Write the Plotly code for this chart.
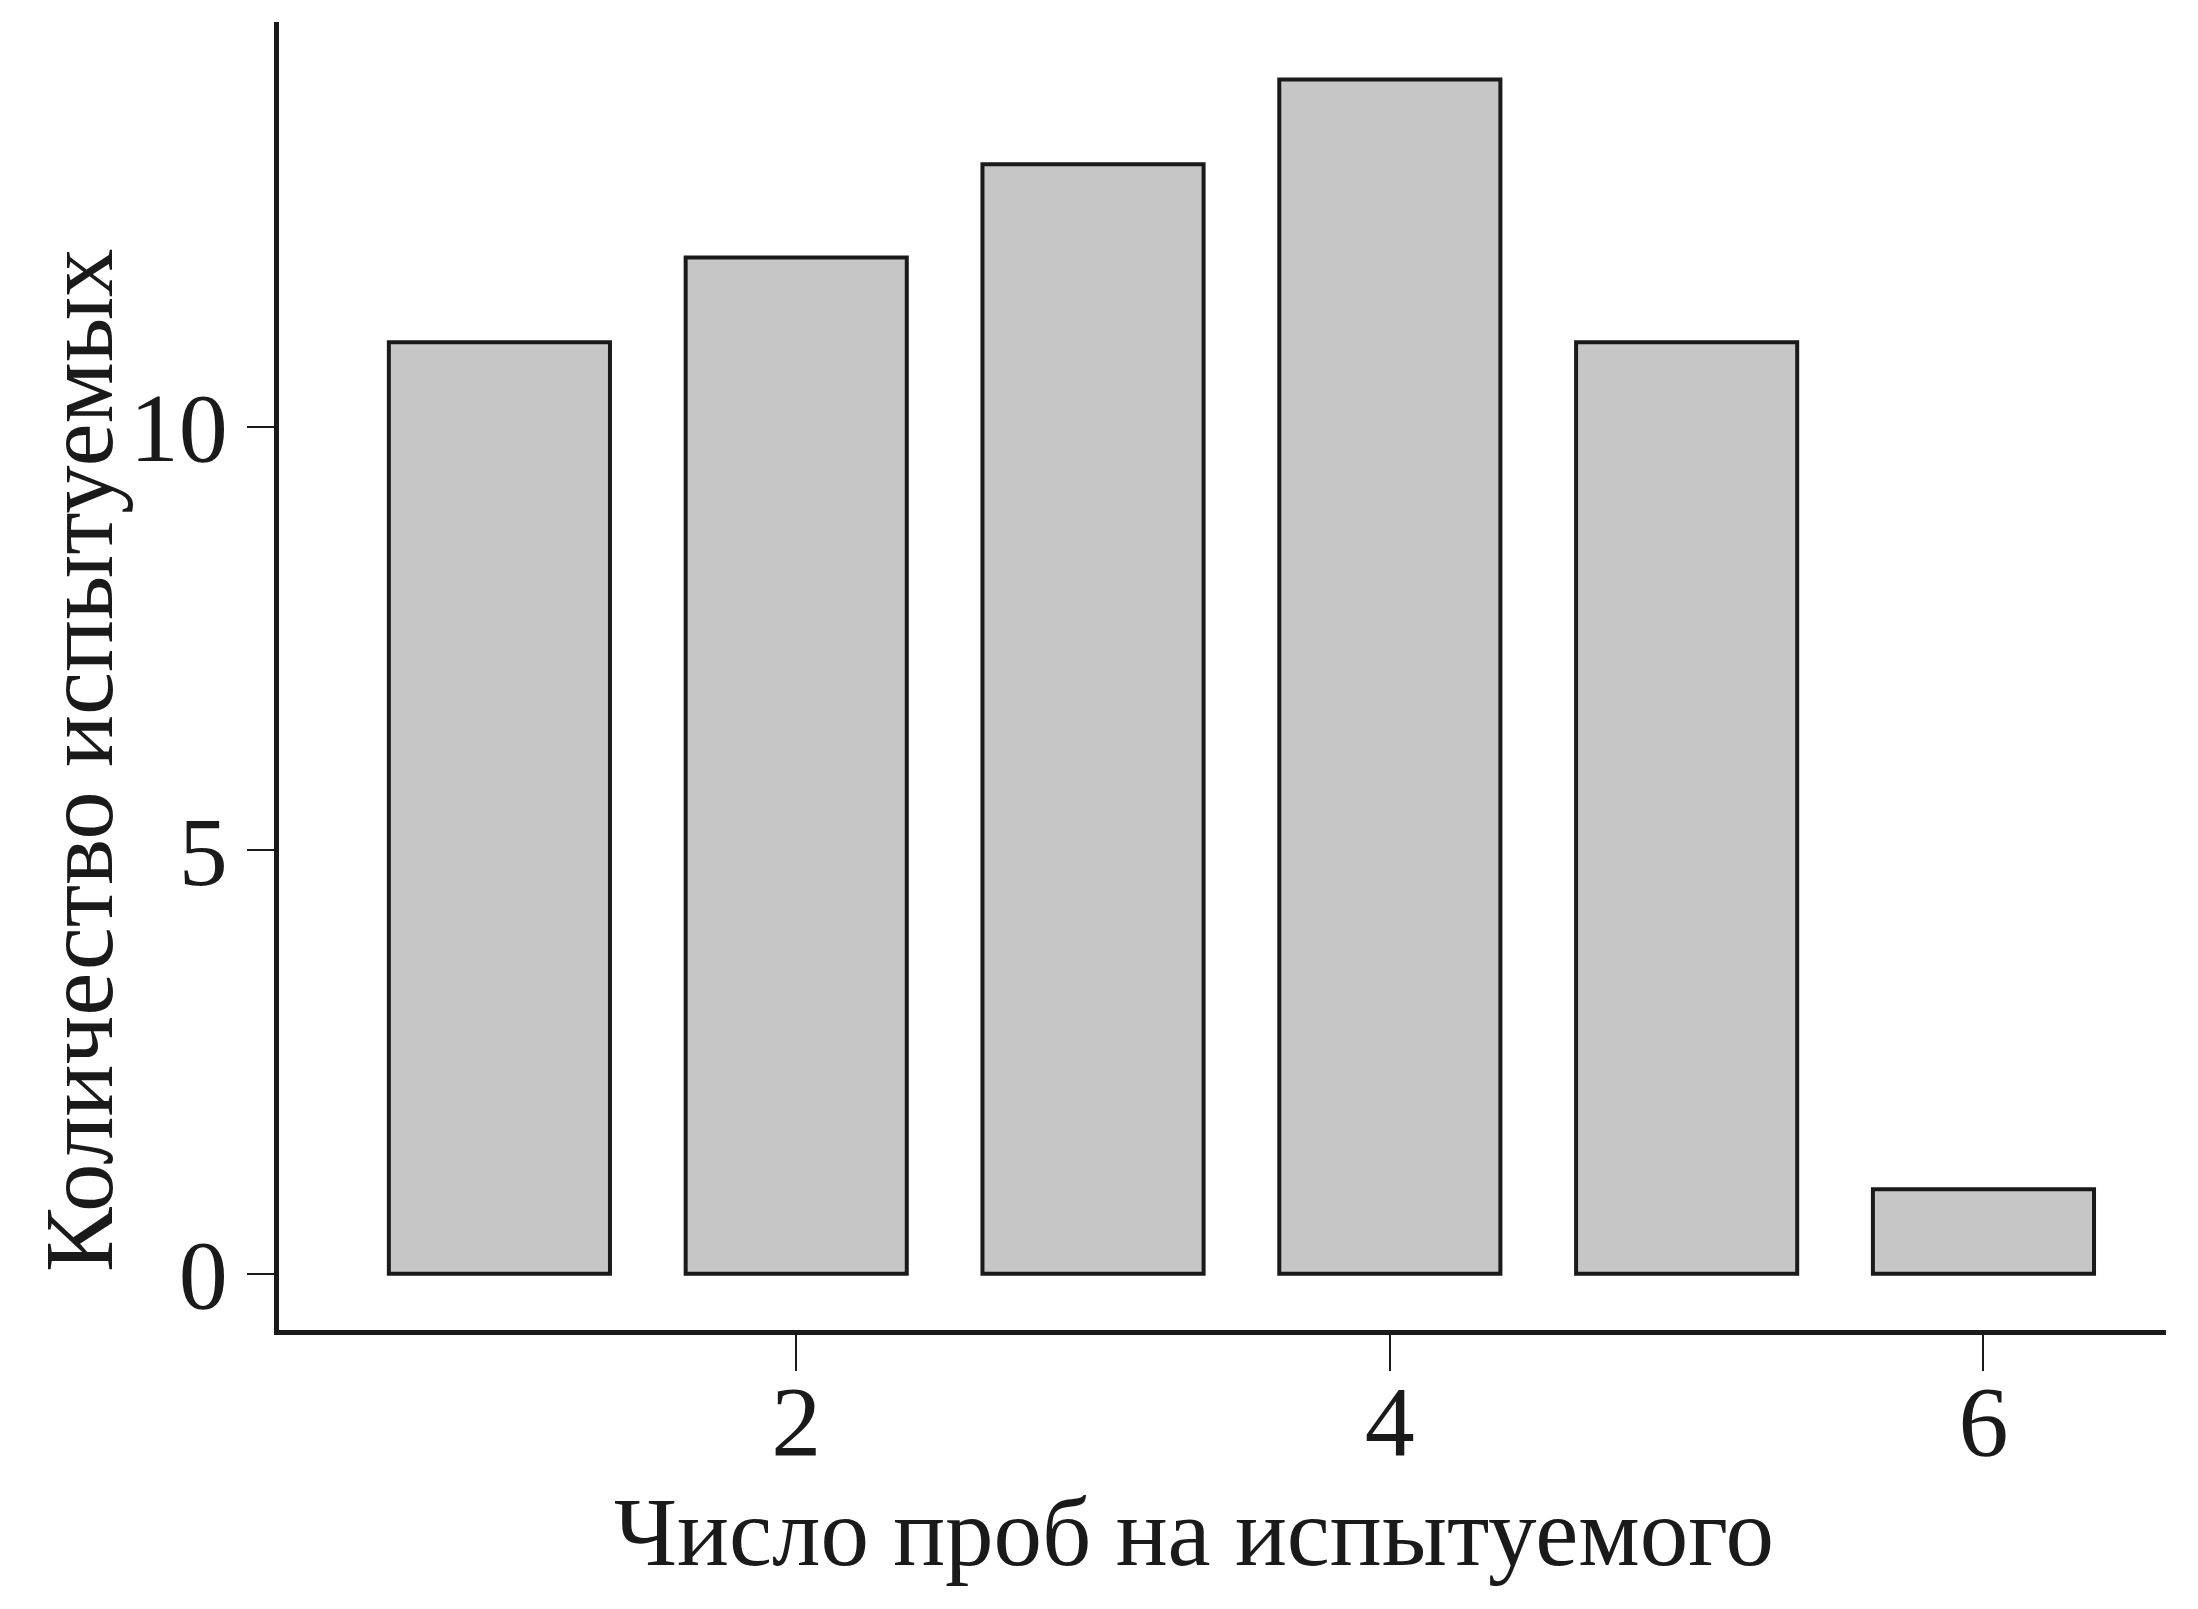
import plotly.graph_objects as go

trials = [1, 2, 3, 4, 5, 6]
counts = [11, 12, 13.1, 14.1, 11, 1]
x_ticks = [2, 4, 6]
y_ticks = [0, 5, 10]
x_title = "Число проб на испытуемого"
y_title = "Количество испытуемых"

ink = "#1a1a1a"
font_family = "Liberation Serif"

fig = go.Figure(
    go.Bar(
        x=trials,
        y=counts,
        width=0.745,
        marker=dict(color="#c6c6c6", line=dict(color=ink, width=4)),
    )
)

fig.update_layout(
    width=2198,
    height=1609,
    margin=dict(l=271, r=40, t=14, b=287),
    plot_bgcolor="white",
    paper_bgcolor="white",
    showlegend=False,
    font=dict(family=font_family, color=ink, size=98),
)

fig.update_xaxes(
    range=[0.2574, 6.615],
    tickvals=x_ticks,
    ticks="outside",
    ticklen=36,
    tickwidth=2,
    tickcolor=ink,
    showline=True,
    linewidth=4.5,
    linecolor=ink,
    showgrid=False,
    zeroline=False,
    automargin=False,
    ticklabelstandoff=-36,
    tickfont=dict(size=100, family=font_family, color=ink),
)

fig.update_yaxes(
    range=[-0.663, 14.78],
    tickvals=y_ticks,
    ticks="outside",
    ticklen=27,
    tickwidth=2,
    tickcolor=ink,
    showline=True,
    linewidth=4.5,
    linecolor=ink,
    showgrid=False,
    zeroline=False,
    automargin=False,
    tickfont=dict(size=98, family=font_family, color=ink),
)

fig.add_annotation(
    text=x_title, xref="paper", yref="paper", x=0.4849, y=-0.155,
    xanchor="center", yanchor="middle", showarrow=False,
    font=dict(size=97, family=font_family, color=ink),
)
fig.add_annotation(
    text=y_title, xref="paper", yref="paper", x=-0.1055, y=0.4358,
    xanchor="center", yanchor="middle", textangle=-90, showarrow=False,
    font=dict(size=97, family=font_family, color=ink),
)

fig.write_html("out.html")
